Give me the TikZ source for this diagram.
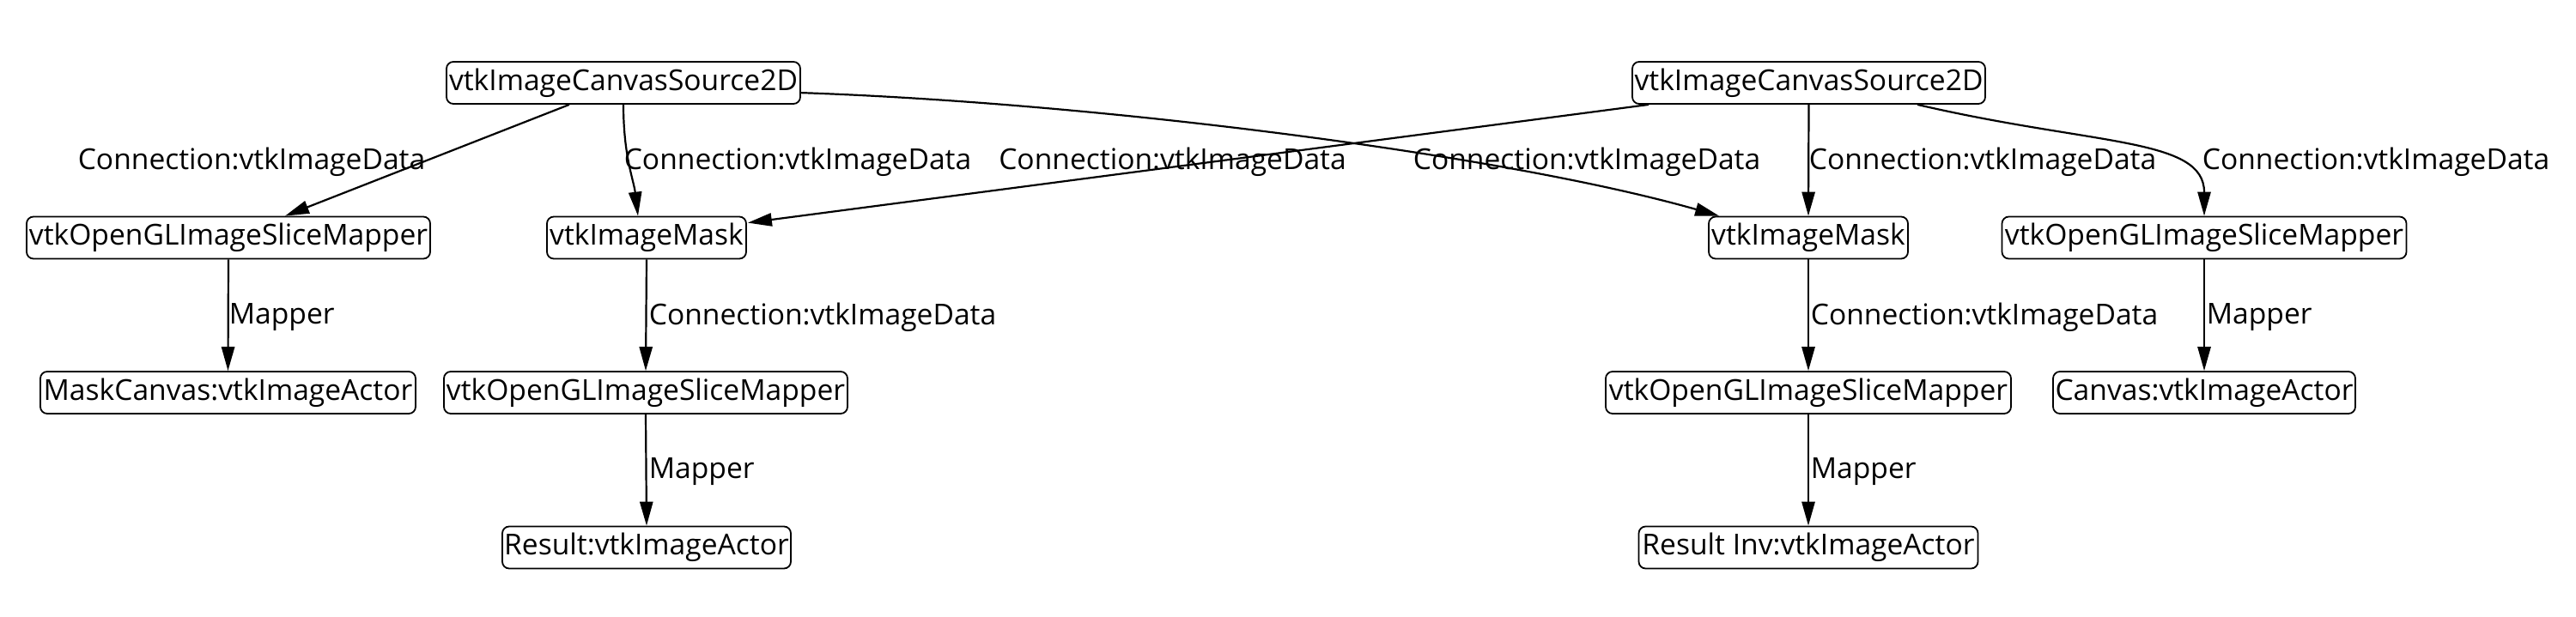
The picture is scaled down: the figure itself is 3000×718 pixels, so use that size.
\documentclass[tikz,border=0pt]{standalone}
\usepackage{fontspec}
\setmainfont{Open Sans}
\usetikzlibrary{arrows.meta,calc}
\begin{document}
\begin{tikzpicture}[x=0.25pt,y=-0.25pt,
  box/.style={draw,rounded corners=2pt,line width=0.45pt,minimum height=12.25pt,inner sep=0pt,font=\fontsize{8.4}{10}\selectfont},
  lbl/.style={inner sep=0pt,font=\fontsize{8.4}{10}\selectfont},
  edge/.style={line width=0.55pt,-{Triangle[length=7pt,width=3.8pt]}}]
\useasboundingbox (0,0) rectangle (3000,718);
% nodes
\node[box,minimum width=103pt]    (s1) at (726,96.5)   {vtkImageCanvasSource2D};
\node[box,minimum width=102.75pt] (s2) at (2106.5,96.5) {vtkImageCanvasSource2D};
\node[box,minimum width=117.5pt]  (m1) at (266,277)    {vtkOpenGLImageSliceMapper};
\node[box,minimum width=58pt]     (k1) at (753,277)    {vtkImageMask};
\node[box,minimum width=58pt]     (k2) at (2106,277)   {vtkImageMask};
\node[box,minimum width=117.75pt] (m4) at (2567,277)   {vtkOpenGLImageSliceMapper};
\node[box,minimum width=109.25pt] (a1) at (265.5,457.5) {MaskCanvas:vtkImageActor};
\node[box,minimum width=117.5pt]  (m2) at (752,457.5)  {vtkOpenGLImageSliceMapper};
\node[box,minimum width=118pt]    (m3) at (2106,457.5) {vtkOpenGLImageSliceMapper};
\node[box,minimum width=88pt]     (a2) at (2567,457.5) {Canvas:vtkImageActor};
\node[box,minimum width=84pt]     (r1) at (753,638)    {Result:vtkImageActor};
\node[box,minimum width=98.75pt]  (r2) at (2106,638)   {Result Inv:vtkImageActor};
% edges
\draw[edge] ($(s1.south)+(-63,0)$) -- ($(m1.north)+(66,0)$);
\draw[edge] (s1.south) .. controls +(0,60) and +(-5,-42) .. ($(k1.north)+(-10,0)$);
\draw[edge] ($(s1.north east)+(0,37)$) .. controls (1280,120) and (1750,180) .. ($(k2.north west)+(13,0)$);
\draw[edge] ($(s2.south west)+(20,0)$) -- ($(k1.north east)+(1,8)$);
\draw[edge] (s2.south) -- (k2.north);
\draw[edge] ($(s2.south)+(126.5,0)$) .. controls (2440,170) and (2567,160) .. (m4.north);
\draw[edge] (m1.south) -- (a1.north);
\draw[edge] (k1.south) -- (m2.north);
\draw[edge] (k2.south) -- (m3.north);
\draw[edge] (m4.south) -- (a2.north);
\draw[edge] (m2.south) -- (r1.north);
\draw[edge] (m3.south) -- (r2.north);
% labels
\node[lbl] (l1) at (293,189)    {Connection:vtkImageData};
\node[lbl] (l2) at (929,189)    {Connection:vtkImageData};
\node[lbl] (l3) at (1365.5,189) {Connection:vtkImageData};
\node[lbl] (l4) at (1848,189)   {Connection:vtkImageData};
\node[lbl] (l5) at (2309,189)   {Connection:vtkImageData};
\node[lbl] (l6) at (2767,189)   {Connection:vtkImageData};
\node[lbl,anchor=west] (l7) at (266,370)  {Mapper};
\node[lbl,anchor=west] (l8) at (755,370)  {Connection:vtkImageData};
\node[lbl,anchor=west] (l9) at (2108,370) {Connection:vtkImageData};
\node[lbl,anchor=west] (l10) at (2569,370) {Mapper};
\node[lbl,anchor=west] (l11) at (755,550) {Mapper};
\node[lbl,anchor=west] (l12) at (2108,550) {Mapper};
\end{tikzpicture}
\end{document}
